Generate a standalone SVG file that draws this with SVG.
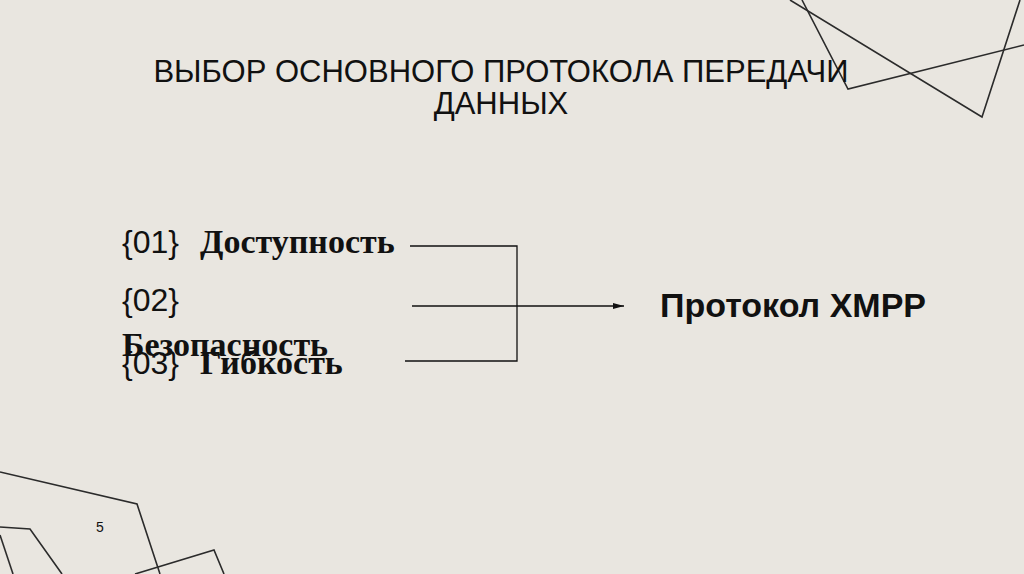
<svg xmlns="http://www.w3.org/2000/svg" width="1024" height="574" viewBox="0 0 1024 574">
<style>
.d{fill:none;stroke:#2b2b2b;stroke-width:1.6}
.s{font-family:"Liberation Sans",Arial,sans-serif;fill:#111}
.r{font-family:"Liberation Serif","Times New Roman",serif;font-weight:bold;fill:#111;font-size:34px}
.c{fill:none;stroke:#111;stroke-width:1.3}
</style>
<defs><marker id="a" markerWidth="12" markerHeight="8" refX="11" refY="4" orient="auto" markerUnits="userSpaceOnUse"><path d="M0,1 L11,4 L0,7z" fill="#111"/></marker></defs>
<rect width="1024" height="574" fill="#e9e6e0"/>
<g id="decor">
<path class="d" d="M790,0 L982,117 L1020,0"/>
<path class="d" d="M802,0 L848,89 L1024,45"/>
<path class="d" d="M0,472 L137,504 L160,574"/>
<path class="d" d="M0,527 L30,529 L62,574"/>
<path class="d" d="M0,535 L13,574"/>
<path class="d" d="M135,574 L214,550 L224,574"/>
</g>
<g id="title"><text class="s" font-size="31" text-anchor="middle" x="501" y="82">ВЫБОР ОСНОВНОГО ПРОТОКОЛА ПЕРЕДАЧИ</text>
<text class="s" font-size="31" text-anchor="middle" x="501" y="114">ДАННЫХ</text></g>
<g id="n1"><text class="s" font-size="32" x="122" y="253">{01}</text><text class="r" x="200" y="253">Доступность</text></g>
<g id="n2"><text class="s" font-size="32" x="122" y="311">{02}</text><text class="r" x="122" y="356">Безопасность</text></g>
<g id="n3"><text class="s" font-size="32" x="122" y="374">{03}</text><text class="r" x="200" y="374">Гибкость</text></g>
<g id="n4"><text class="s" font-size="34" font-weight="bold" x="660" y="317">Протокол XMPP</text></g>
<g id="connectors">
<path class="c" d="M410,246 H517 V361 H405"/>
<path class="c" d="M412,306 H624" marker-end="url(#a)"/>
</g>
<text class="s" font-size="14" x="96" y="532">5</text>
</svg>
